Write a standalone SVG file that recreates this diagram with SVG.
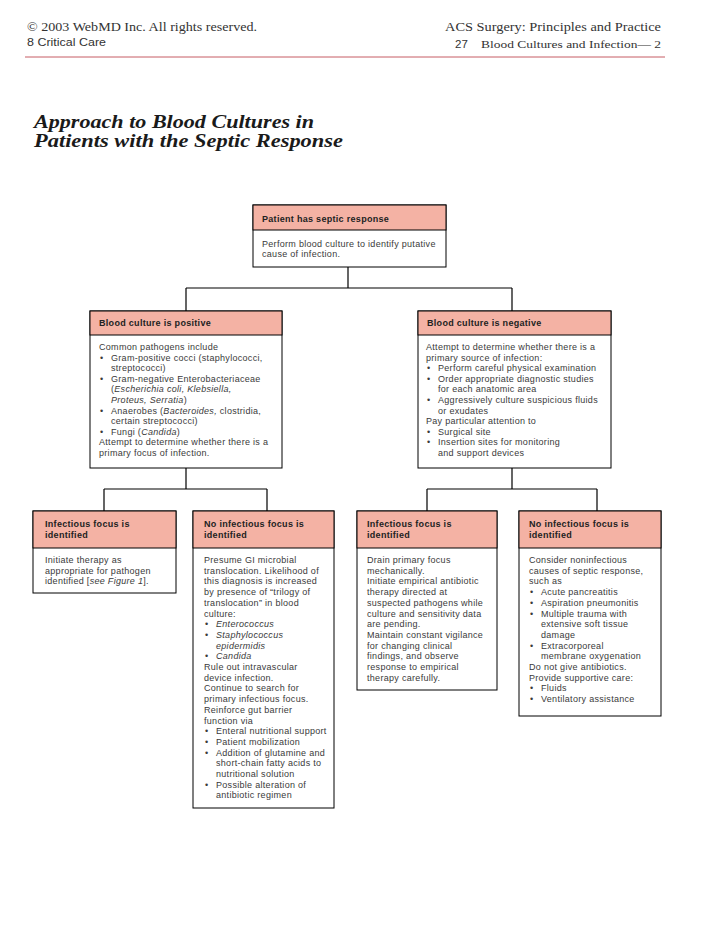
<svg xmlns="http://www.w3.org/2000/svg" width="728" height="942" viewBox="0 0 728 942">
<style>
.bg{fill:#fff}
.box{fill:#fff;stroke:#000;stroke-width:1}
.hd{fill:#f4b2a4;stroke:#000;stroke-width:1}
.t{font-family:"Liberation Sans",Arial,Helvetica,sans-serif;font-size:9px;letter-spacing:0.3px;fill:#3a3a3a}
.b{font-family:"Liberation Sans",Arial,Helvetica,sans-serif;font-size:9px;font-weight:bold;letter-spacing:0.3px;fill:#222}
.i{font-style:italic}
.conn{fill:none;stroke:#000;stroke-width:1.2}
.serif{font-family:"Liberation Serif","Times New Roman",serif;fill:#333}
.sans{font-family:"Liberation Sans",Arial,sans-serif;fill:#333}
.ttl{font-family:"Liberation Serif","Times New Roman",serif;font-size:19px;font-weight:bold;font-style:italic;fill:#1a1a1a}
</style>
<rect class="bg" x="0" y="0" width="728" height="942"/>

<g id="page-header">
<text class="serif" x="27" y="31" font-size="13.5" textLength="230" lengthAdjust="spacingAndGlyphs">© 2003 WebMD Inc. All rights reserved.</text>
<text class="sans" x="27" y="46" font-size="11.5" textLength="79" lengthAdjust="spacingAndGlyphs">8 Critical Care</text>
<text class="serif" x="661" y="31" font-size="13.5" text-anchor="end" textLength="216" lengthAdjust="spacingAndGlyphs">ACS Surgery: Principles and Practice</text>
<text class="sans" x="455" y="48" font-size="11.5">27</text>
<text class="serif" x="481" y="48" font-size="11" textLength="180" lengthAdjust="spacingAndGlyphs">Blood Cultures and Infection— 2</text>
<line x1="25" y1="57" x2="665" y2="57" stroke="#b8343c" stroke-width="0.8"/>
</g>

<g id="title">
<text class="ttl" x="34" y="128" textLength="280" lengthAdjust="spacingAndGlyphs">Approach to Blood Cultures in</text>
<text class="ttl" x="34" y="147" textLength="309" lengthAdjust="spacingAndGlyphs">Patients with the Septic Response</text>
</g>

<g id="connectors">
<path class="conn" d="M348,267 V288 M186,288 H512 M186,288 V311 M512,288 V311"/>
<path class="conn" d="M186,468 V489 M104,489 H267 M104,489 V511 M267,489 V511"/>
<path class="conn" d="M512,468 V489 M427,489 H597 M427,489 V511 M597,489 V511"/>
</g>

<g id="node-septic">
<rect class="box" x="253" y="205" width="193" height="62"/>
<rect class="hd" x="253" y="205" width="193" height="25"/>
<text class="b" x="262" y="222">Patient has septic response</text>
<text class="t" x="262" y="247">Perform blood culture to identify putative</text>
<text class="t" x="262" y="257">cause of infection.</text>
</g>

<g id="node-positive">
<rect class="box" x="90" y="311" width="192" height="157"/>
<rect class="hd" x="90" y="311" width="192" height="24"/>
<text class="b" x="99" y="326">Blood culture is positive</text>
<text class="t" x="99" y="350">Common pathogens include</text>
<text class="t" x="100" y="360.6">•</text><text class="t" x="111" y="360.6">Gram-positive cocci (staphylococci,</text>
<text class="t" x="111" y="371.2">streptococci)</text>
<text class="t" x="100" y="381.8">•</text><text class="t" x="111" y="381.8">Gram-negative Enterobacteriaceae</text>
<text class="t" x="111" y="392.4">(<tspan class="i">Escherichia coli, Klebsiella,</tspan></text>
<text class="t" x="111" y="403"><tspan class="i">Proteus, Serratia</tspan>)</text>
<text class="t" x="100" y="413.6">•</text><text class="t" x="111" y="413.6">Anaerobes (<tspan class="i">Bacteroides,</tspan> clostridia,</text>
<text class="t" x="111" y="424.2">certain streptococci)</text>
<text class="t" x="100" y="434.8">•</text><text class="t" x="111" y="434.8">Fungi (<tspan class="i">Candida</tspan>)</text>
<text class="t" x="99" y="445.4">Attempt to determine whether there is a</text>
<text class="t" x="99" y="456">primary focus of infection.</text>
</g>

<g id="node-negative">
<rect class="box" x="418" y="311" width="193" height="157"/>
<rect class="hd" x="418" y="311" width="193" height="24"/>
<text class="b" x="427" y="326">Blood culture is negative</text>
<text class="t" x="426" y="350">Attempt to determine whether there is a</text>
<text class="t" x="426" y="360.6">primary source of infection:</text>
<text class="t" x="427" y="371.2">•</text><text class="t" x="438" y="371.2">Perform careful physical examination</text>
<text class="t" x="427" y="381.8">•</text><text class="t" x="438" y="381.8">Order appropriate diagnostic studies</text>
<text class="t" x="438" y="392.4">for each anatomic area</text>
<text class="t" x="427" y="403">•</text><text class="t" x="438" y="403">Aggressively culture suspicious fluids</text>
<text class="t" x="438" y="413.6">or exudates</text>
<text class="t" x="426" y="424.2">Pay particular attention to</text>
<text class="t" x="427" y="434.8">•</text><text class="t" x="438" y="434.8">Surgical site</text>
<text class="t" x="427" y="445.4">•</text><text class="t" x="438" y="445.4">Insertion sites for monitoring</text>
<text class="t" x="438" y="456">and support devices</text>
</g>

<g id="node-pos-focus">
<rect class="box" x="33" y="511" width="143" height="82"/>
<rect class="hd" x="33" y="511" width="143" height="37"/>
<text class="b" x="45" y="526.5">Infectious focus is</text>
<text class="b" x="45" y="537.5">identified</text>
<text class="t" x="45" y="563">Initiate therapy as</text>
<text class="t" x="45" y="573.7">appropriate for pathogen</text>
<text class="t" x="45" y="584.4">identified [<tspan class="i">see Figure 1</tspan>].</text>
</g>

<g id="node-pos-nofocus">
<rect class="box" x="193" y="511" width="141" height="297"/>
<rect class="hd" x="193" y="511" width="141" height="37"/>
<text class="b" x="204" y="526.5">No infectious focus is</text>
<text class="b" x="204" y="537.5">identified</text>
<text class="t" x="204" y="563">Presume GI microbial</text>
<text class="t" x="204" y="573.7">translocation. Likelihood of</text>
<text class="t" x="204" y="584.4">this diagnosis is increased</text>
<text class="t" x="204" y="595.1">by presence of “trilogy of</text>
<text class="t" x="204" y="605.8">translocation” in blood</text>
<text class="t" x="204" y="616.5">culture:</text>
<text class="t" x="205" y="627.2">•</text><text class="t i" x="216" y="627.2">Enterococcus</text>
<text class="t" x="205" y="637.9">•</text><text class="t i" x="216" y="637.9">Staphylococcus</text>
<text class="t i" x="216" y="648.6">epidermidis</text>
<text class="t" x="205" y="659.3">•</text><text class="t i" x="216" y="659.3">Candida</text>
<text class="t" x="204" y="670">Rule out intravascular</text>
<text class="t" x="204" y="680.7">device infection.</text>
<text class="t" x="204" y="691.4">Continue to search for</text>
<text class="t" x="204" y="702.1">primary infectious focus.</text>
<text class="t" x="204" y="712.8">Reinforce gut barrier</text>
<text class="t" x="204" y="723.5">function via</text>
<text class="t" x="205" y="734.2">•</text><text class="t" x="216" y="734.2">Enteral nutritional support</text>
<text class="t" x="205" y="744.9">•</text><text class="t" x="216" y="744.9">Patient mobilization</text>
<text class="t" x="205" y="755.6">•</text><text class="t" x="216" y="755.6">Addition of glutamine and</text>
<text class="t" x="216" y="766.3">short-chain fatty acids to</text>
<text class="t" x="216" y="777">nutritional solution</text>
<text class="t" x="205" y="787.7">•</text><text class="t" x="216" y="787.7">Possible alteration of</text>
<text class="t" x="216" y="798.4">antibiotic regimen</text>
</g>

<g id="node-neg-focus">
<rect class="box" x="357" y="511" width="140" height="179"/>
<rect class="hd" x="357" y="511" width="140" height="37"/>
<text class="b" x="367" y="526.5">Infectious focus is</text>
<text class="b" x="367" y="537.5">identified</text>
<text class="t" x="367" y="563">Drain primary focus</text>
<text class="t" x="367" y="573.7">mechanically.</text>
<text class="t" x="367" y="584.4">Initiate empirical antibiotic</text>
<text class="t" x="367" y="595.1">therapy directed at</text>
<text class="t" x="367" y="605.8">suspected pathogens while</text>
<text class="t" x="367" y="616.5">culture and sensitivity data</text>
<text class="t" x="367" y="627.2">are pending.</text>
<text class="t" x="367" y="637.9">Maintain constant vigilance</text>
<text class="t" x="367" y="648.6">for changing clinical</text>
<text class="t" x="367" y="659.3">findings, and observe</text>
<text class="t" x="367" y="670">response to empirical</text>
<text class="t" x="367" y="680.7">therapy carefully.</text>
</g>

<g id="node-neg-nofocus">
<rect class="box" x="519" y="511" width="142" height="205"/>
<rect class="hd" x="519" y="511" width="142" height="37"/>
<text class="b" x="529" y="526.5">No infectious focus is</text>
<text class="b" x="529" y="537.5">identified</text>
<text class="t" x="529" y="563">Consider noninfectious</text>
<text class="t" x="529" y="573.7">causes of septic response,</text>
<text class="t" x="529" y="584.4">such as</text>
<text class="t" x="530" y="595.1">•</text><text class="t" x="541" y="595.1">Acute pancreatitis</text>
<text class="t" x="530" y="605.8">•</text><text class="t" x="541" y="605.8">Aspiration pneumonitis</text>
<text class="t" x="530" y="616.5">•</text><text class="t" x="541" y="616.5">Multiple trauma with</text>
<text class="t" x="541" y="627.2">extensive soft tissue</text>
<text class="t" x="541" y="637.9">damage</text>
<text class="t" x="530" y="648.6">•</text><text class="t" x="541" y="648.6">Extracorporeal</text>
<text class="t" x="541" y="659.3">membrane oxygenation</text>
<text class="t" x="529" y="670">Do not give antibiotics.</text>
<text class="t" x="529" y="680.7">Provide supportive care:</text>
<text class="t" x="530" y="691.4">•</text><text class="t" x="541" y="691.4">Fluids</text>
<text class="t" x="530" y="702.1">•</text><text class="t" x="541" y="702.1">Ventilatory assistance</text>
</g>
</svg>
